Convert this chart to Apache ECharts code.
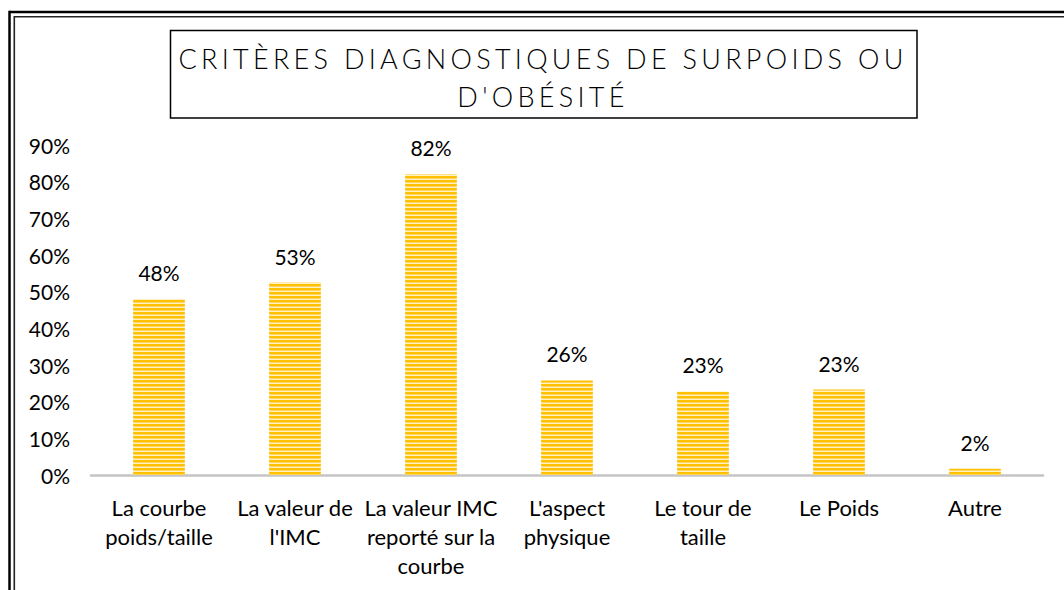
<!DOCTYPE html>
<html><head><meta charset="utf-8">
<script src="https://cdn.jsdelivr.net/npm/echarts@6/dist/echarts.min.js"></script>
<style>html,body{margin:0;padding:0;background:#fff}#c{width:1064px;height:590px}</style>
</head><body><div id="c"></div>
<script>
const categories = ["La courbe\npoids/taille", "La valeur de\nl'IMC", "La valeur IMC\nreporté sur la\ncourbe", "L'aspect\nphysique", "Le tour de\ntaille", "Le Poids", "Autre"];
const values = [48, 52.5, 82, 25.8, 22.8, 23.3, 1.7];
const titleLines = ["CRITÈRES DIAGNOSTIQUES DE SURPOIDS OU", "D'OBÉSITÉ"];
const yMax = 90, yStep = 10;
const TITLE_SPACING = 4.3;

const tile = document.createElement('canvas');
tile.width = 8; tile.height = 4;
(function(){
  const g = tile.getContext('2d');
  const rows = ['#FFC000', '#FFC000', '#FFD75E', '#FFF1C4'];
  rows.forEach((c, i) => { g.fillStyle = c; g.fillRect(0, i, 8, 1); });
})();

const chart = echarts.init(document.getElementById('c'), null, {renderer: 'svg'});
const font = 'Lato';
const option = {
  animation: false,
  backgroundColor: '#fff',
  grid: {left: 91, right: 21, top: 145, bottom: 115, containLabel: false},
  xAxis: {
    type: 'category', data: categories,
    axisTick: {show: false},
    axisLine: {lineStyle: {color: '#C4C4C4', width: 2.5}},
    axisLabel: {color: '#000', fontFamily: font, fontSize: 22, lineHeight: 29, margin: 18, interval: 0}
  },
  yAxis: {
    type: 'value', min: 0, max: yMax, interval: yStep,
    axisLine: {show: false}, axisTick: {show: false}, splitLine: {show: false},
    axisLabel: {color: '#000', fontFamily: font, fontSize: 21, margin: 21, formatter: '{value}%'}
  },
  series: [{
    type: 'bar', data: values, barCategoryGap: '62%',
    itemStyle: {color: {image: tile, repeat: 'repeat'}},
    label: {show: true, position: 'top', distance: 16, color: '#000', fontFamily: font, fontSize: 21,
      formatter: p => Math.round(p.value) + '%'}
  }],
  graphic: [
    {type: 'line', shape: {x1: 9.5, y1: 12, x2: 1064, y2: 12}, style: {stroke: '#000', lineWidth: 2.5}, silent: true},
    {type: 'line', shape: {x1: 14.3, y1: 16.8, x2: 1064, y2: 16.8}, style: {stroke: '#222', lineWidth: 1.6}, silent: true},
    {type: 'line', shape: {x1: 9.5, y1: 10.8, x2: 9.5, y2: 590}, style: {stroke: '#000', lineWidth: 2.5}, silent: true},
    {type: 'line', shape: {x1: 14.3, y1: 16, x2: 14.3, y2: 590}, style: {stroke: '#222', lineWidth: 1.6}, silent: true},
    {type: 'rect', shape: {x: 170.5, y: 30.5, width: 746.5, height: 87.5}, style: {fill: '#fff', stroke: '#000', lineWidth: 1.5}, silent: true},
    {type: 'text', x: 543, y: 58, silent: true,
      style: {text: titleLines[0], fill: '#000', fontFamily: font, fontSize: 27, fontWeight: 300, align: 'center', verticalAlign: 'middle'}},
    {type: 'text', x: 543, y: 96, silent: true,
      style: {text: titleLines[1], fill: '#000', fontFamily: font, fontSize: 27, fontWeight: 300, align: 'center', verticalAlign: 'middle'}}
  ]
};
function spaceTitle(){
  document.querySelectorAll('#c svg text').forEach(t => {
    if (titleLines.includes(t.textContent)) t.setAttribute('letter-spacing', TITLE_SPACING);
  });
}
chart.on('finished', spaceTitle);
chart.setOption(option);
spaceTitle();
requestAnimationFrame(spaceTitle);
setTimeout(spaceTitle, 30);
setTimeout(spaceTitle, 200);
</script></body></html>
